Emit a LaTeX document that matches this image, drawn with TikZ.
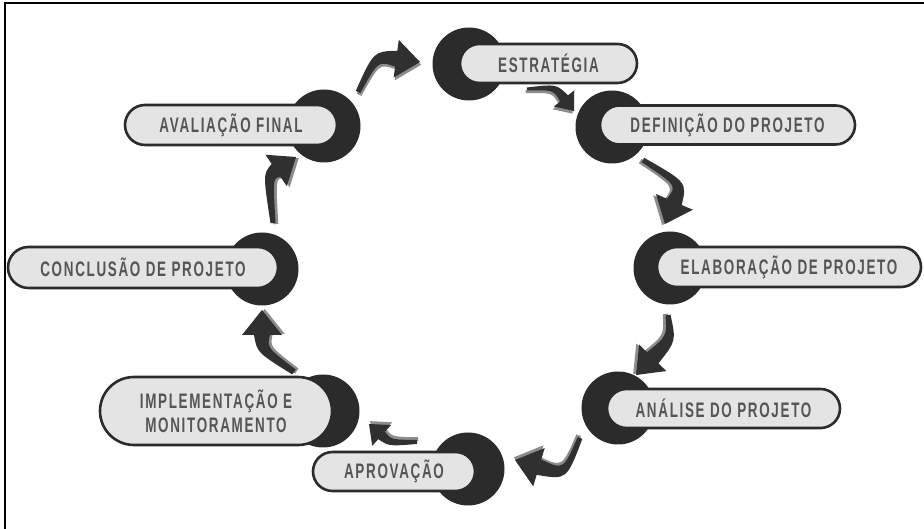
\documentclass[tikz,border=0pt]{standalone}
\usepackage{fontspec}
\usetikzlibrary{calc,shapes.misc}
\newfontfamily\lblfont[FakeStretch=0.64,LetterSpace=8]{Liberation Sans}
\definecolor{dk}{HTML}{2B2B2B}
\definecolor{pillfill}{HTML}{E4E4E4}
\definecolor{txt}{HTML}{555555}
\definecolor{arrdk}{HTML}{303030}
\definecolor{arrsh}{HTML}{8C8C8C}
\tikzset{
  dot/.style={circle, fill=dk, minimum size=73pt, inner sep=0pt},
  pill/.style={rounded rectangle, draw=dk, line width=2.6pt, fill=pillfill, text=txt,
    font=\lblfont\bfseries\fontsize{21}{24}\selectfont, inner sep=0pt, align=center,
    minimum height=39pt},
  frameline/.style={line width=2pt, black},
}
% #1 tail, #2 control, #3 tip, #4 shadow shift, #5 head length, #6 head half width,
% #7 body half width at head, #8 body half width at tail
\newcommand\swoosh[8]{%
  \pgfmathsetmacro\swmid{(#7+#8)/2}%
  \coordinate (sT) at (#1);
  \coordinate (sK) at (#2);
  \coordinate (sP) at (#3);
  \coordinate (sH) at ($(sP)!#5!(sK)$);
  \coordinate (sBo) at ($(sH)!#7!90:(sP)$);
  \coordinate (sBi) at ($(sH)!#7!-90:(sP)$);
  \coordinate (sWo) at ($(sH)!#6!90:(sP)$);
  \coordinate (sWi) at ($(sH)!#6!-90:(sP)$);
  \coordinate (sTo) at ($(sT)!#8!90:(sK)$);
  \coordinate (sTi) at ($(sT)!#8!-90:(sK)$);
  \coordinate (sNo) at ($(sT)!\swmid pt!90:(sP)$);
  \coordinate (sNi) at ($(sT)!\swmid pt!-90:(sP)$);
  \coordinate (sKo) at ($(sK)+(sNo)-(sT)$);
  \coordinate (sKi) at ($(sK)+(sNi)-(sT)$);
  \begin{scope}[transform canvas={shift={(#4)}}]
    \fill[arrsh] (sTo) .. controls (sKo) .. (sBo) -- (sWo) -- (sP) -- (sWi) -- (sBi) .. controls (sKi) .. (sTi) -- cycle;
  \end{scope}
  \fill[arrdk] (sTo) .. controls (sKo) .. (sBo) -- (sWo) -- (sP) -- (sWi) -- (sBi) .. controls (sKi) .. (sTi) -- cycle;
}
\begin{document}
\begin{tikzpicture}[x=1pt,y=1pt]
\useasboundingbox (0,0) rectangle (924,529);
\fill[white] (0,0) rectangle (924,529);
\coordinate (fl) at (5,0);
\coordinate (fc) at (5,525.5);
\coordinate (fr) at (924,525.5);
\draw[frameline] (fl) -- (fc) -- (fr);

% circles
\node[dot] (c1) at (469,465) {};
\node[dot] (c2) at (612,402) {};
\node[dot] (c3) at (670,261) {};
\node[dot] (c4) at (618,121) {};
\node[dot] (c5) at (468,60) {};
\node[dot] (c6) at (323,118) {};
\node[dot] (c7) at (262,260) {};
\node[dot] (c8) at (324,403) {};

% labels
\node[pill, minimum width=177pt] (p1) at (548.5,465.5) {ESTRATÉGIA};
\node[pill, minimum width=255pt] (p2) at (727.5,404) {DEFINIÇÃO DO PROJETO};
\node[pill, minimum width=264pt, minimum height=40pt] (p3) at (789,262) {ELABORAÇÃO DE PROJETO};
\node[pill, minimum width=233pt] (p4) at (723.5,120.5) {ANÁLISE DO PROJETO};
\node[pill, minimum width=162pt] (p5) at (394,57.5) {APROVAÇÃO};
\node[pill, minimum width=232pt, minimum height=68pt] (p6) at (216,118) {IMPLEMENTAÇÃO E\\MONITORAMENTO};
\node[pill, minimum width=270pt, minimum height=41pt] (p7) at (143,261.5) {CONCLUSÃO DE PROJETO};
\node[pill, minimum width=212pt, minimum height=40pt] (p8) at (231,404) {AVALIAÇÃO FINAL};

% arrows
\swoosh{358,437}{376,473}{420,467}{1.1pt,-2.8pt}{24pt}{19pt}{8pt}{2.5pt}
\swoosh{527,440}{555,442}{574,418}{-1.3pt,-2.7pt}{16pt}{13pt}{5pt}{1.5pt}
\swoosh{643,369}{682,345}{665,305}{-2.8pt,-1.1pt}{24pt}{20pt}{8pt}{2.5pt}
\swoosh{668,214}{671.5,190.5}{636,154}{-2.8pt,1pt}{24pt}{19pt}{8pt}{2.5pt}
\swoosh{580,91}{565,54}{515,69}{-1.2pt,2.7pt}{25pt}{20pt}{8pt}{2.5pt}
\swoosh{417,87}{390,86}{369,105}{1.2pt,2.8pt}{17pt}{14pt}{5pt}{2pt}
\swoosh{294,157}{262,179}{262,219}{2.8pt,1pt}{25pt}{20pt}{8pt}{3pt}
\swoosh{273,306}{268,353}{296,372}{2.8pt,-1.1pt}{24pt}{19pt}{8pt}{2.5pt}
\end{tikzpicture}
\end{document}
